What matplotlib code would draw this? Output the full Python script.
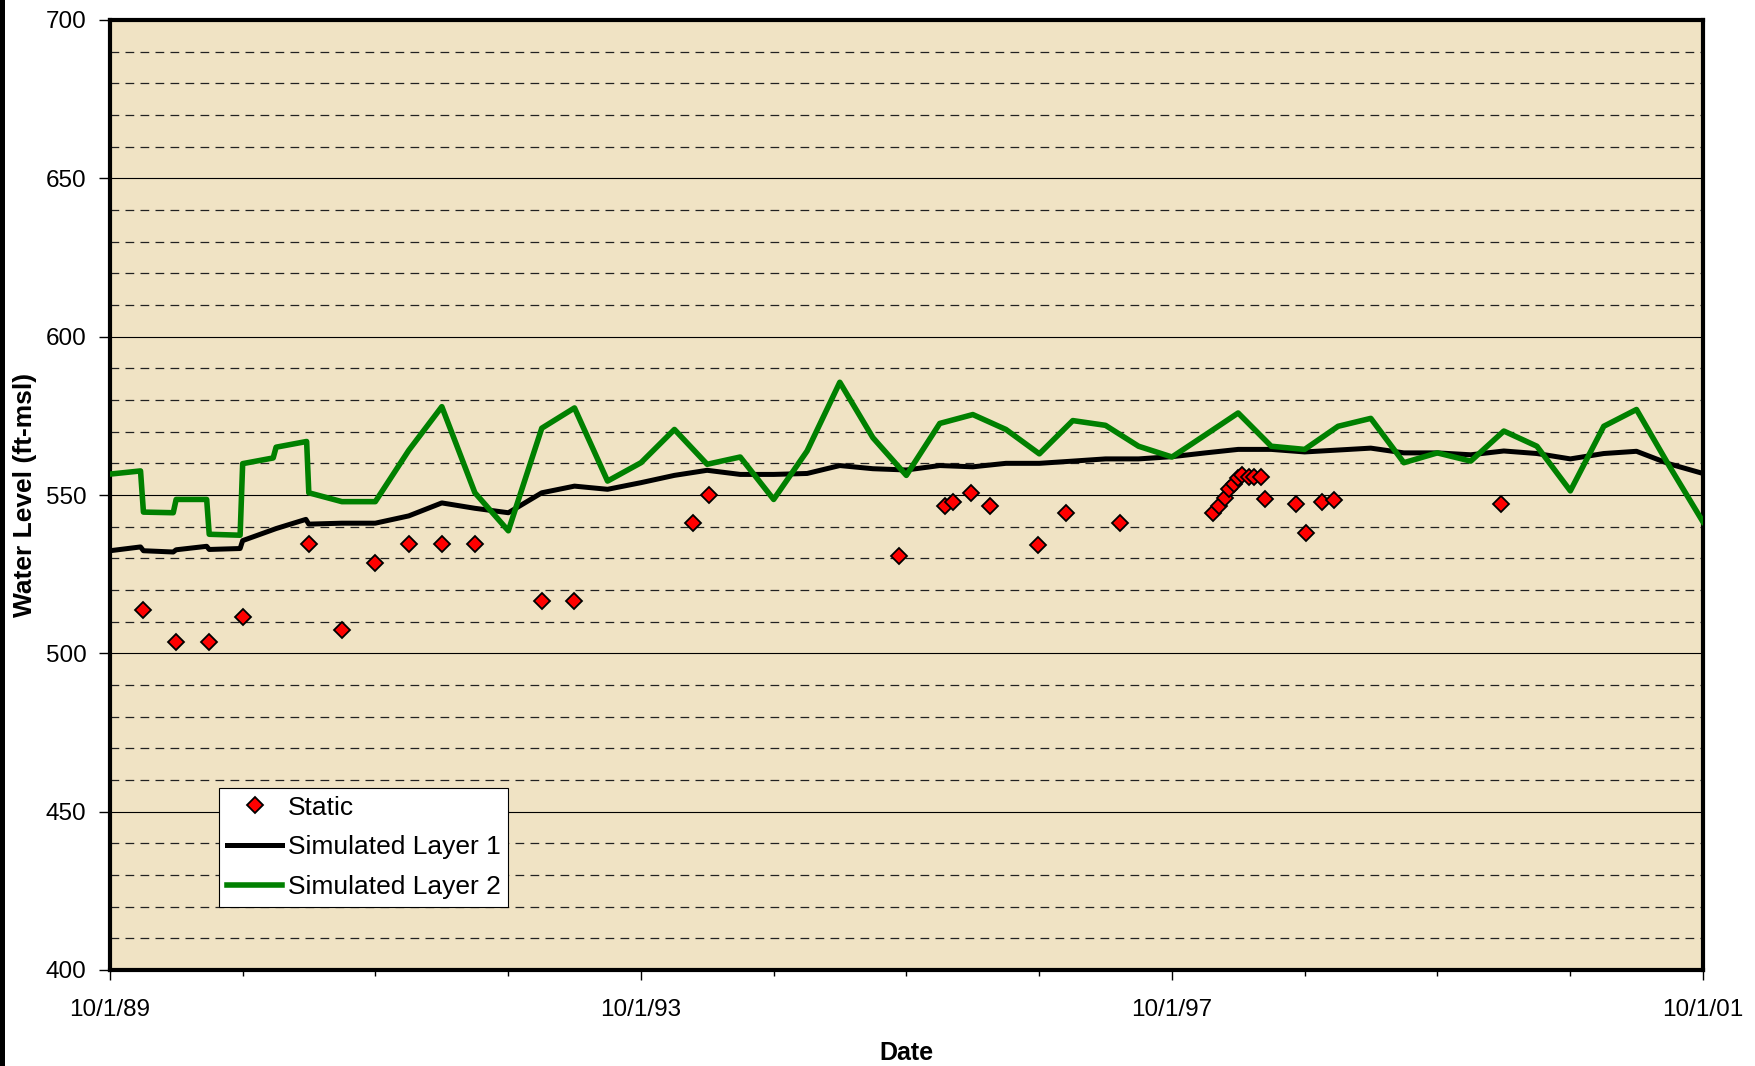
import matplotlib
matplotlib.use('Agg')
import matplotlib.pyplot as plt
import matplotlib.dates as mdates
from matplotlib.ticker import MultipleLocator, FixedLocator
from matplotlib.patches import Rectangle
import pandas as pd

plt.rcParams['font.family'] = ['Liberation Sans', 'DejaVu Sans']

layer1_dates = ['1989-10-01', '1989-12-24', '1990-01-01', '1990-03-24', '1990-04-01',
                '1990-06-24', '1990-07-01', '1990-09-24', '1990-10-01', '1991-01-01',
                '1991-03-24', '1991-04-01', '1991-07-01', '1991-10-01', '1992-01-01',
                '1992-04-01', '1992-07-01', '1992-10-01', '1993-01-01', '1993-04-01',
                '1993-07-01', '1993-10-01', '1994-01-01', '1994-04-01', '1994-07-01',
                '1994-10-01', '1995-01-01', '1995-04-01', '1995-07-01', '1995-10-01',
                '1996-01-01', '1996-04-01', '1996-07-01', '1996-10-01', '1997-01-01',
                '1997-04-01', '1997-07-01', '1997-10-01', '1998-01-01', '1998-04-01',
                '1998-07-01', '1998-10-01', '1999-01-01', '1999-04-01', '1999-07-01',
                '1999-10-01', '2000-01-01', '2000-04-01', '2000-07-01', '2000-10-01',
                '2001-01-01', '2001-04-01', '2001-07-01', '2001-10-01']
layer1_level = [532.4, 533.6, 532.4, 532.0, 532.7,
                533.8, 532.8, 533.1, 535.6, 539.4,
                542.3, 540.8, 541.1, 541.1, 543.4,
                547.5, 545.8, 544.4, 550.7, 552.8,
                551.8, 553.9, 556.2, 557.8, 556.5,
                556.5, 556.8, 559.3, 558.3, 557.9,
                559.3, 558.9, 560.0, 560.0, 560.7,
                561.4, 561.4, 562.1, 563.3, 564.4,
                564.4, 563.6, 564.2, 564.8, 563.3,
                563.3, 562.7, 563.9, 563.1, 561.4,
                563.1, 563.8, 559.8, 556.8]

layer2_dates = ['1989-10-01', '1989-12-24', '1990-01-01', '1990-03-24', '1990-04-01',
                '1990-06-24', '1990-07-01', '1990-09-24', '1990-10-01', '1990-12-24',
                '1991-01-01', '1991-03-26', '1991-04-01', '1991-07-01', '1991-10-01',
                '1992-01-01', '1992-04-01', '1992-07-01', '1992-10-01', '1993-01-01',
                '1993-04-01', '1993-07-01', '1993-10-01', '1994-01-01', '1994-04-01',
                '1994-07-01', '1994-10-01', '1995-01-01', '1995-04-01', '1995-07-01',
                '1995-10-01', '1996-01-01', '1996-04-01', '1996-07-01', '1996-10-01',
                '1997-01-01', '1997-04-01', '1997-07-01', '1997-10-01', '1998-01-01',
                '1998-04-01', '1998-07-01', '1998-10-01', '1999-01-01', '1999-04-01',
                '1999-07-01', '1999-10-01', '2000-01-01', '2000-04-01', '2000-07-01',
                '2000-10-01', '2001-01-01', '2001-04-01', '2001-07-01', '2001-10-01']
layer2_level = [556.6, 557.6, 544.6, 544.4, 548.6,
                548.6, 537.6, 537.3, 559.9, 561.7,
                565.1, 566.9, 550.7, 547.9, 547.9,
                564.1, 577.9, 550.7, 538.7, 571.1,
                577.5, 554.4, 560.2, 570.7, 559.7,
                562.0, 548.6, 563.9, 585.6, 568.1,
                556.2, 572.6, 575.4, 570.7, 563.0,
                573.5, 572.0, 565.4, 562.0, 569.0,
                575.9, 565.4, 564.4, 571.7, 574.2,
                560.2, 563.3, 560.7, 570.2, 565.4,
                551.3, 571.7, 577.0, 559.0, 541.5]

static_dates = ['1990-01-01', '1990-04-01', '1990-07-01', '1990-10-01', '1991-04-01',
                '1991-07-01', '1991-10-01', '1992-01-01', '1992-04-01', '1992-07-01',
                '1993-01-01', '1993-04-01', '1994-02-20', '1994-04-05', '1995-09-12',
                '1996-01-15', '1996-02-06', '1996-03-28', '1996-05-18', '1996-09-27',
                '1996-12-13', '1997-05-12', '1998-01-22', '1998-02-06', '1998-02-24',
                '1998-03-07', '1998-03-21', '1998-04-01', '1998-04-12', '1998-04-30',
                '1998-05-15', '1998-06-03', '1998-06-14', '1998-09-06', '1998-10-05',
                '1998-11-18', '1998-12-20', '2000-03-25']
static_level = [513.7, 503.5, 503.5, 511.5, 534.5,
                507.5, 528.6, 534.5, 534.5, 534.5,
                516.5, 516.5, 541.3, 550.0, 530.6,
                546.5, 547.8, 550.7, 546.5, 534.2,
                544.4, 541.1, 544.2, 546.5, 549.2,
                551.8, 553.4, 555.5, 556.2, 555.7,
                555.7, 555.7, 548.6, 547.3, 537.9,
                547.8, 548.4, 547.1]

xtick_dates = ['1989-10-01', '1993-10-01', '1997-10-01', '2001-10-01']
xtick_labels = ['10/1/89', '10/1/93', '10/1/97', '10/1/01']

W, H = 1756, 1066
fig = plt.figure(figsize=(W / 100, H / 100), dpi=100)
ax = fig.add_axes([110 / W, 1 - 970 / H, 1593 / W, 950 / H])
ax.set_facecolor('#F0E3C4')

ax.plot(pd.to_datetime(static_dates), static_level, 'D', ms=8.5, mfc='red',
        mec='black', mew=1.3, ls='none', label='Static', zorder=4)
ax.plot(pd.to_datetime(layer1_dates), layer1_level, color='black', lw=3.6,
        label='Simulated Layer 1', zorder=3)
ax.plot(pd.to_datetime(layer2_dates), layer2_level, color='#008000', lw=4,
        label='Simulated Layer 2', zorder=3)

ax.set_xlim(pd.Timestamp('1989-10-01'), pd.Timestamp('2001-10-01'))
ax.set_ylim(400, 700)

ax.xaxis.set_major_locator(FixedLocator(mdates.date2num(pd.to_datetime(xtick_dates))))
ax.set_xticklabels(xtick_labels)
ax.xaxis.set_minor_locator(mdates.YearLocator(1, month=10, day=1))
ax.yaxis.set_major_locator(MultipleLocator(50))
ax.yaxis.set_minor_locator(MultipleLocator(10))

ax.set_axisbelow(True)
ax.grid(which='major', axis='y', color='black', lw=0.8)
ax.grid(which='minor', axis='y', color='#222222', lw=0.9, ls=(0, (7, 5)))

ax.tick_params(axis='y', which='major', direction='out', length=8, width=1,
               labelsize=17.5, pad=9)
ax.tick_params(axis='y', which='minor', length=0)
ax.tick_params(axis='x', which='major', direction='out', length=7, width=1,
               labelsize=17.5, pad=14)
ax.tick_params(axis='x', which='minor', direction='out', length=4, width=1)

for s in ax.spines.values():
    s.set_linewidth(3)
    s.set_color('black')

leg = ax.legend(loc='upper left', bbox_to_anchor=(0.0684, 0.1919), borderaxespad=0,
                fontsize=19, fancybox=False, framealpha=1, edgecolor='black',
                handlelength=2.1, handletextpad=0.2, borderpad=0.3, labelspacing=0.6)
leg.get_frame().set_linewidth(0.8)

fig.text(906 / W, 1 - 1053 / H, 'Date', ha='center', va='center',
         fontsize=18, fontweight='bold')
fig.text(25 / W, 1 - 495 / H, 'Water Level (ft-msl)', ha='center', va='center',
         rotation=90, fontsize=19, fontweight='bold')

fig.add_artist(Rectangle((0, 0), 5 / W, 1, transform=fig.transFigure,
                         color='black', lw=0))

fig.savefig('out.png', dpi=100)
